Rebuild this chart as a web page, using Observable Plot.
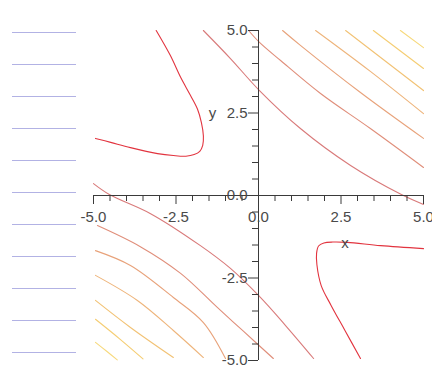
<!DOCTYPE html>
<html>
<head>
<meta charset="utf-8">
<script src="https://cdn.jsdelivr.net/npm/d3@7"></script>
<script src="https://cdn.jsdelivr.net/npm/@observablehq/plot@0.6"></script>
<style>
  html, body { margin: 0; padding: 0; background: #fff; }
  #chart { position: relative; width: 432px; height: 370px; overflow: hidden; }
  #chart svg { position: absolute; left: 0; top: 0; }
</style>
</head>
<body>
<div id="chart"></div>
<script>
// Contour level of each curve: 0 = lowest (red) … 7 = highest (yellow)
const levelIds = [0, 1, 2, 3, 4, 5, 6, 7];
const levelColors = ["#e2343f", "#d97a7a", "#e08e7a", "#e8a27a", "#eeb47a", "#f2c274", "#f5cd72", "#f7d97c"];

// Hyperbola-like branches (lowest level)
const branchUpperLeft = [[-3.1, 5.0], [-2.67, 4.24], [-2.36, 3.58], [-2.06, 3.03], [-1.85, 2.62], [-1.73, 2.21], [-1.67, 1.80], [-1.69, 1.52], [-1.78, 1.34], [-1.95, 1.24], [-2.2, 1.19], [-2.58, 1.21], [-3.06, 1.27], [-3.88, 1.45], [-4.48, 1.61], [-4.94, 1.73]];
const branchLowerRight = [[3.09, -4.94], [2.62, -4.09], [2.2, -3.33], [1.9, -2.73], [1.77, -2.1], [1.76, -1.75], [1.82, -1.53], [1.98, -1.44], [2.25, -1.41], [2.69, -1.42], [3.70, -1.52], [5.0, -1.61]];

// Near-straight contours in the upper-right quadrant, from the origin outward
const upper1 = [[-1.67, 5.0], [-0.85, 4.15], [0.03, 3.18], [1.27, 2.03], [2.79, 0.91], [4.33, 0.03], [5.0, -0.27]];
const upper2 = [[-0.30, 5.0], [0.03, 4.64], [0.67, 4.09], [1.88, 3.09], [3.39, 2.03], [5.0, 0.85]];
const upper3 = [[0.73, 5.0], [1.27, 4.55], [3.09, 3.12], [5.0, 1.73]];
const upper4 = [[1.73, 5.0], [3.39, 3.76], [5.0, 2.48]];
const upper5 = [[2.64, 5.0], [5.0, 3.18]];
const upper6 = [[3.48, 5.0], [5.0, 3.85]];
const upper7 = [[4.30, 5.0], [5.0, 4.48]];

// Matching contours in the lower-left quadrant
const lower1 = [[-5.0, 0.36], [-4.52, 0.03], [-3.27, -0.55], [-1.76, -1.52], [-0.85, -2.21], [0.0, -3.03], [0.82, -3.94], [1.67, -4.94]];
const lower2 = [[-4.88, -0.91], [-3.58, -1.55], [-2.36, -2.36], [-1.24, -3.40], [-0.45, -4.12], [0.45, -4.94]];
const lower3 = [[-4.94, -1.67], [-3.88, -2.12], [-2.58, -3.09], [-1.67, -3.85], [-1.0, -4.94]];
const lower4 = [[-4.94, -2.42], [-3.67, -3.18], [-2.58, -4.09], [-1.67, -4.91]];
const lower5 = [[-4.94, -3.18], [-3.88, -4.0], [-2.58, -4.91]];
const lower6 = [[-4.94, -3.75], [-4.2, -4.35], [-3.5, -4.95]];
const lower7 = [[-4.94, -4.45], [-4.6, -4.72], [-4.28, -4.98]];

// Axis ticks and labels
const majorTicks = [-5, -2.5, 0, 2.5, 5];
const tickLabels = ["-5.0", "-2.5", "0.0", "2.5", "5.0"];
const minorTicks = [-4.5, -4, -3.5, -3, -2, -1.5, -1, -0.5, 0.5, 1, 1.5, 2, 3, 3.5, 4, 4.5];
const axisDomain = [-5, 5];

// Empty legend slots on the left
const legendSlots = [1, 2, 3, 4, 5, 6, 7, 8, 9, 10, 11];

const contours = [
  {id: "branchUpperLeft", level: 0, pts: branchUpperLeft},
  {id: "branchLowerRight", level: 0, pts: branchLowerRight},
  {id: "upper1", level: 1, pts: upper1}, {id: "lower1", level: 1, pts: lower1},
  {id: "upper2", level: 2, pts: upper2}, {id: "lower2", level: 2, pts: lower2},
  {id: "upper3", level: 3, pts: upper3}, {id: "lower3", level: 3, pts: lower3},
  {id: "upper4", level: 4, pts: upper4}, {id: "lower4", level: 4, pts: lower4},
  {id: "upper5", level: 5, pts: upper5}, {id: "lower5", level: 5, pts: lower5},
  {id: "upper6", level: 6, pts: upper6}, {id: "lower6", level: 6, pts: lower6},
  {id: "upper7", level: 7, pts: upper7}, {id: "lower7", level: 7, pts: lower7}
];
const rows = contours.flatMap(c => c.pts.map(([x, y]) => ({id: c.id, level: c.level, x, y})));
const majorRows = majorTicks.map((v, i) => ({v, label: tickLabels[i]}));

const font = "Liberation Sans, Arial, sans-serif";
const axisColor = "#3a3a3a";
const textColor = "#4a4a4a";

const main = Plot.plot({
  width: 432,
  height: 370,
  marginLeft: 93,
  marginRight: 9,
  marginTop: 30,
  marginBottom: 10,
  x: {domain: axisDomain, axis: null},
  y: {domain: axisDomain, axis: null},
  color: {type: "ordinal", domain: levelIds, range: levelColors},
  style: {background: "transparent"},
  marks: [
    Plot.line(rows, {x: "x", y: "y", z: "id", stroke: "level", strokeWidth: 1.1, curve: "catmull-rom"}),
    // axes crossing at the origin
    Plot.ruleY([0], {x1: axisDomain[0], x2: axisDomain[1], stroke: axisColor}),
    Plot.ruleX([0], {y1: axisDomain[0], y2: axisDomain[1], stroke: axisColor}),
    Plot.ruleX(minorTicks, {x: d => d, y1: 0, y2: 0, insetBottom: -6, stroke: axisColor}),
    Plot.ruleX(majorTicks, {x: d => d, y1: 0, y2: 0, insetBottom: -9, stroke: axisColor}),
    Plot.ruleY(minorTicks, {y: d => d, x1: 0, x2: 0, insetLeft: -6, stroke: axisColor}),
    Plot.ruleY(majorTicks, {y: d => d, x1: 0, x2: 0, insetLeft: -10, stroke: axisColor}),
    Plot.text(majorRows, {x: "v", y: 0, text: "label", dy: 22, fontSize: 15, fontFamily: font, fill: textColor}),
    Plot.text(majorRows, {x: 0, y: "v", text: "label", dx: -11, textAnchor: "end", fontSize: 15, fontFamily: font, fill: textColor}),
    Plot.text(["x"], {x: majorTicks[3], y: 0, text: d => d, dx: 4, dy: 48, fontSize: 15, fontFamily: font, fill: textColor}),
    Plot.text(["y"], {x: 0, y: majorTicks[3], text: d => d, dx: -46, fontSize: 15, fontFamily: font, fill: textColor})
  ]
});

const legend = Plot.plot({
  width: 90,
  height: 370,
  marginLeft: 12,
  marginRight: 14,
  marginTop: 31,
  marginBottom: 18,
  x: {domain: [0, 1], axis: null},
  y: {type: "point", domain: legendSlots, axis: null, padding: 0},
  style: {background: "transparent"},
  marks: [
    Plot.ruleY(legendSlots, {y: d => d, stroke: "#b2b2e4", strokeWidth: 1})
  ]
});

const chart = document.getElementById("chart");
chart.append(main);
chart.append(legend);
</script>
</body>
</html>
